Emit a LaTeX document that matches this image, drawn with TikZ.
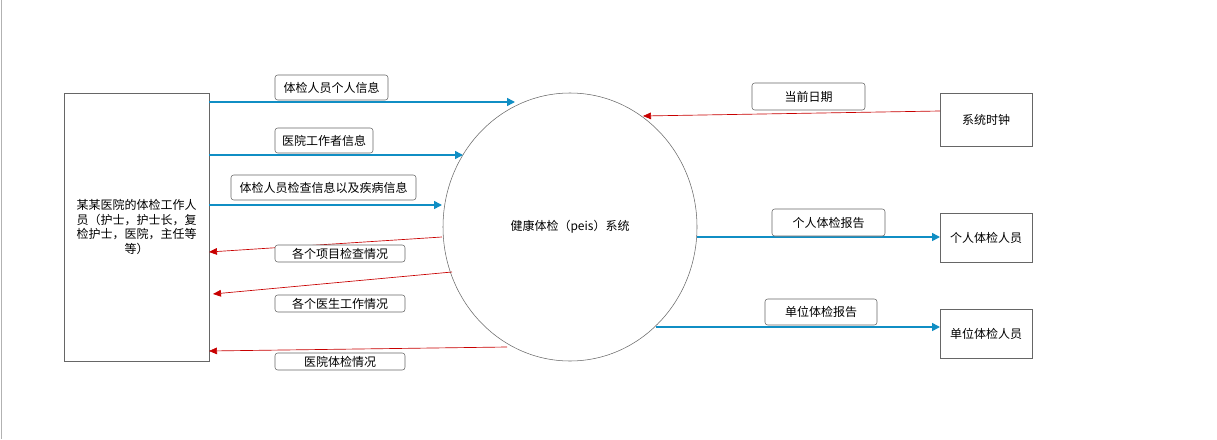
\documentclass[tikz,border=0pt]{standalone}
\usepackage{fontspec}
\setmainfont{Noto Sans CJK SC}
\usetikzlibrary{arrows.meta,shapes.geometric}
\definecolor{bl}{RGB}{16,142,196}
\definecolor{rd}{RGB}{200,0,0}
\begin{document}
\begin{tikzpicture}[x=0.75pt,y=-0.75pt,
 box/.style={draw=black!60,fill=white,minimum width=#1*0.75pt,inner sep=1pt,font=\fontsize{9}{11}\selectfont,align=center},
 lab/.style={draw=black!60,rounded corners=2pt,fill=white,inner sep=2pt,font=\fontsize{9}{11}\selectfont},
 ba/.style={draw=bl,line width=1.2pt,-{Triangle[length=6pt,width=6pt]}},
 ra/.style={draw=rd,line width=0.5pt,-{Triangle[length=6pt,width=5pt]}}]
\useasboundingbox (0,0) rectangle (1217,439);
\draw[black!30] (1,0) -- (1,439);
\node[box=145,minimum height=268*0.75pt] (L) at (136.5,227) {某某医院的体检工作人\\员（护士，护士长，复\\检护士，医院，主任等\\等）};
\node[draw=black!60,ellipse,minimum width=254*0.75pt,minimum height=268*0.75pt,font=\fontsize{9}{11}\selectfont] (C) at (570,227) {健康体检（peis）系统};
\node[box=92,minimum height=53*0.75pt] (S) at (986,119.5) {系统时钟};
\node[box=92,minimum height=49*0.75pt] (P) at (986,237.5) {个人体检人员};
\node[box=92,minimum height=49*0.75pt] (U) at (986,333.5) {单位体检人员};
\coordinate (a1) at (209,102); \coordinate (b1) at (515,102);
\coordinate (a2) at (209,155); \coordinate (b2) at (463,155);
\coordinate (a3) at (209,205); \coordinate (b3) at (442,205);
\coordinate (a4) at (442,237); \coordinate (b4) at (209,252);
\coordinate (a5) at (452,272); \coordinate (b5) at (213,294);
\coordinate (a6) at (507,347); \coordinate (b6) at (209,351);
\coordinate (a7) at (940,111); \coordinate (b7) at (643,116);
\coordinate (a8) at (697,237); \coordinate (b8) at (940,237);
\coordinate (a9) at (656,327); \coordinate (b9) at (940,327);
\draw[ba] (a1) -- (b1); \draw[ba] (a2) -- (b2); \draw[ba] (a3) -- (b3);
\draw[ra] (a4) -- (b4); \draw[ra] (a5) -- (b5); \draw[ra] (a6) -- (b6);
\draw[ra] (a7) -- (b7);
\draw[ba] (a8) -- (b8); \draw[ba] (a9) -- (b9);
\node[lab,minimum width=113*0.75pt,minimum height=25*0.75pt] (l1) at (331.5,87.5) {体检人员个人信息};
\node[lab,minimum width=98*0.75pt,minimum height=25*0.75pt] (l2) at (324,140.5) {医院工作者信息};
\node[lab,minimum width=185*0.75pt,minimum height=25*0.75pt] (l3) at (323.5,187.5) {体检人员检查信息以及疾病信息};
\node[lab,minimum width=130*0.75pt,minimum height=17*0.75pt,inner sep=0pt] (l4) at (340,253.5) {各个项目检查情况};
\node[lab,minimum width=130*0.75pt,minimum height=17*0.75pt,inner sep=0pt] (l5) at (340,303.5) {各个医生工作情况};
\node[lab,minimum width=130*0.75pt,minimum height=17*0.75pt,inner sep=0pt] (l6) at (340,361.5) {医院体检情况};
\node[lab,minimum width=113*0.75pt,minimum height=27*0.75pt] (l7) at (808.5,96.5) {当前日期};
\node[lab,minimum width=113*0.75pt,minimum height=27*0.75pt] (l8) at (828.5,222.5) {个人体检报告};
\node[lab,minimum width=112*0.75pt,minimum height=26*0.75pt] (l9) at (821,312) {单位体检报告};
\end{tikzpicture}
\end{document}
